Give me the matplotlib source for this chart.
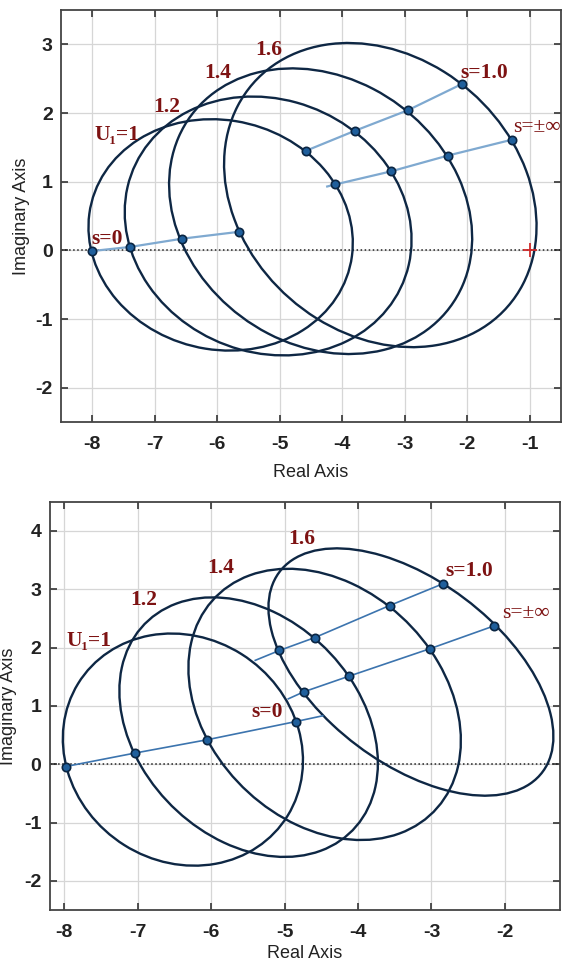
import numpy as np
import matplotlib
matplotlib.use("Agg")
import matplotlib.pyplot as plt
from matplotlib.patches import Ellipse

plt.rcParams['axes.unicode_minus'] = False

# ---- top panel data ----
# each loop is given by its extents and the x of its highest point
top_x_left = [-8.06, -7.48, -6.77, -5.89]
top_x_right = [-3.83, -2.89, -1.92, -0.89]
top_y_bottom = [-1.46, -1.53, -1.51, -1.41]
top_y_top = [1.91, 2.24, 2.65, 3.02]
top_x_peak = [-6.09, -5.43, -4.80, -3.90]

top_s0_x = [-8.00, -7.39, -6.56, -5.65]
top_s0_y = [-0.01, 0.05, 0.17, 0.27]
top_s1_x = [-4.58, -3.80, -2.95, -2.09]
top_s1_y = [1.45, 1.74, 2.04, 2.42]
top_sinf_x = [-4.11, -3.22, -2.31, -1.29]
top_sinf_y = [0.96, 1.15, 1.38, 1.61]
top_sinf_start = (-4.24, 0.93)

top_labels = ['U₁=1', '1.2', '1.4', '1.6', 's=0', 's=1.0', 's=±∞']
top_label_x = [-7.61, -6.81, -6.00, -5.17, -7.76, -1.73, -0.88]
top_label_y = [1.68, 2.09, 2.59, 2.92, 0.16, 2.59, 1.79]

# ---- bottom panel data ----
bot_x_left = [-8.02, -7.25, -6.31, -5.22]
bot_x_right = [-4.75, -3.73, -2.60, -1.34]
bot_y_bottom = [-1.74, -1.59, -1.30, -0.54]
bot_y_top = [2.24, 2.86, 3.35, 3.70]
bot_x_peak = [-6.54, -5.98, -4.95, -4.29]

bot_s0_x = [-7.98, -7.04, -6.05, -4.85]
bot_s0_y = [-0.04, 0.19, 0.42, 0.73]
bot_s0_end = (-4.48, 0.83)
bot_sinf_x = [-4.74, -4.12, -3.02, -2.15]
bot_sinf_y = [1.24, 1.51, 1.98, 2.37]
bot_sinf_start = (-4.95, 1.12)
bot_s1_x = [-5.07, -4.59, -3.57, -2.85]
bot_s1_y = [1.95, 2.17, 2.72, 3.09]
bot_s1_start = (-5.40, 1.78)

bot_labels = ['U₁=1', '1.2', '1.4', '1.6', 's=0', 's=1.0', 's=±∞']
bot_label_x = [-7.66, -6.92, -5.87, -4.77, -5.24, -2.49, -1.72]
bot_label_y = [2.11, 2.82, 3.37, 3.86, 0.90, 3.31, 2.59]

curve_col = '#0e2744'
dot_face = '#1f5f9c'
dot_edge = '#0a2542'
txt_col = '#7d1212'
tick_font = ['Liberation Sans Narrow', 'Liberation Sans', 'DejaVu Sans']
serif = ['Liberation Serif', 'DejaVu Serif']


def loop(x0, x1, y0, y1, xpk):
    cx, cy = (x0 + x1) / 2, (y0 + y1) / 2
    w, h = (x1 - x0) / 2, (y1 - y0) / 2
    c = (xpk - cx) * h
    vals, vecs = np.linalg.eigh(np.array([[w * w, c], [c, h * h]]))
    ang = np.degrees(np.arctan2(vecs[1, 1], vecs[0, 1]))
    return Ellipse((cx, cy), 2 * np.sqrt(vals[1]), 2 * np.sqrt(vals[0]), angle=ang,
                   fill=False, ec=curve_col, lw=1.7, zorder=3)


def style(ax, xlim, ylim, xticks, yticks, ylab_x, xpad):
    ax.set_xlim(*xlim)
    ax.set_ylim(*ylim)
    ax.set_xticks(xticks)
    ax.set_yticks(yticks)
    ax.grid(True, color='#d6d6d6', lw=0.9)
    ax.set_axisbelow(True)
    ax.axhline(0, color='#222222', ls=':', lw=1.1, zorder=2)
    ax.tick_params(direction='in', top=True, right=True, length=5, width=1.2,
                   color='#333333', labelsize=14)
    ax.tick_params(axis='x', pad=10)
    ax.tick_params(axis='y', pad=6)
    for lab in ax.get_xticklabels() + ax.get_yticklabels():
        lab.set_family(tick_font)
        lab.set_fontweight('bold')
        lab.set_color('#222222')
    for sp in ax.spines.values():
        sp.set_color('#444444')
        sp.set_linewidth(1.3)
    ax.set_xlabel('Real Axis', fontsize=13, family=tick_font, color='#222222', labelpad=xpad)
    ax.set_ylabel('Imaginary Axis', fontsize=13, family=tick_font, color='#222222')
    ax.yaxis.set_label_coords(ylab_x, 0.5)


def dots(ax, xs, ys):
    ax.plot(xs, ys, 'o', ms=6, mfc=dot_face, mec=dot_edge, mew=1.2, zorder=5)


def labels(ax, names, xs, ys):
    for name, x, y in zip(names, xs, ys):
        bold = 'bold' if '∞' not in name else 'normal'
        ax.text(x, y, name, ha='center', va='center', color=txt_col,
                fontsize=15.5, fontweight=bold, family=serif, zorder=6)


fig = plt.figure(figsize=(5.63, 9.65), dpi=100)

# top panel
ax1 = fig.add_axes([0.1083, 0.5627, 0.888, 0.4269])
style(ax1, (-8.5, -0.5), (-2.5, 3.5), range(-8, 0), range(-2, 4), -0.062, 8)
for i in range(4):
    ax1.add_patch(loop(top_x_left[i], top_x_right[i], top_y_bottom[i], top_y_top[i], top_x_peak[i]))
line_top = '#7fa9d0'
ax1.plot(top_s0_x, top_s0_y, color=line_top, lw=1.6, zorder=4)
ax1.plot(top_s1_x, top_s1_y, color=line_top, lw=1.6, zorder=4)
ax1.plot([top_sinf_start[0]] + top_sinf_x, [top_sinf_start[1]] + top_sinf_y,
         color=line_top, lw=1.6, zorder=4)
for xs, ys in [(top_s0_x, top_s0_y), (top_s1_x, top_s1_y), (top_sinf_x, top_sinf_y)]:
    dots(ax1, xs, ys)
ax1.plot([-1], [0], '+', color='#d02a2a', ms=10, mew=1.3, zorder=6)
labels(ax1, top_labels, top_label_x, top_label_y)

# bottom panel
ax2 = fig.add_axes([0.0881, 0.0570, 0.9066, 0.4231])
style(ax2, (-8.2, -1.25), (-2.5, 4.5), range(-8, -1), range(-2, 5), -0.064, 3)
for i in range(4):
    ax2.add_patch(loop(bot_x_left[i], bot_x_right[i], bot_y_bottom[i], bot_y_top[i], bot_x_peak[i]))
line_bot = '#3c74ae'
ax2.plot(bot_s0_x + [bot_s0_end[0]], bot_s0_y + [bot_s0_end[1]], color=line_bot, lw=1.2, zorder=4)
ax2.plot([bot_sinf_start[0]] + bot_sinf_x, [bot_sinf_start[1]] + bot_sinf_y,
         color=line_bot, lw=1.2, zorder=4)
ax2.plot([bot_s1_start[0]] + bot_s1_x, [bot_s1_start[1]] + bot_s1_y,
         color=line_bot, lw=1.2, zorder=4)
for xs, ys in [(bot_s0_x, bot_s0_y), (bot_sinf_x, bot_sinf_y), (bot_s1_x, bot_s1_y)]:
    dots(ax2, xs, ys)
labels(ax2, bot_labels, bot_label_x, bot_label_y)

fig.savefig('out.png', dpi=100)
